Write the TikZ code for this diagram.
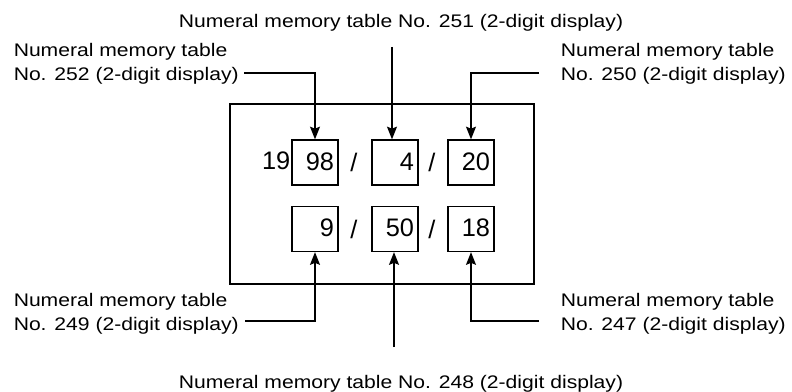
\documentclass[tikz,border=0pt]{standalone}
\usepackage{fontspec}
\setmainfont{Liberation Sans}
\newfontfamily\lblfont[FakeStretch=1.16]{Liberation Sans}
\usetikzlibrary{arrows.meta,calc}
\begin{document}
\begin{tikzpicture}[x=0.75pt,y=-0.75pt,
  lbl/.style={inner sep=0pt, align=left, font=\lblfont\fontsize{13.65pt}{17.5pt}\selectfont},
  digfont/.style={font=\fontsize{19pt}{23pt}\selectfont},
  digbox/.style={draw, line width=1pt, digfont, inner xsep=3pt, inner ysep=0pt,
    text width=28.5pt, align=right, text height=13.7pt, text depth=2pt,
    minimum height=33.75pt},
  sep/.style={digfont, inner sep=0pt},
  arr/.style={line width=1pt, -{Stealth[length=9.5pt,width=7.5pt,inset=1.5pt]}},
  frame/.style={line width=1pt}
]
\useasboundingbox (0,0) rectangle (792,392);

% frame
\draw[frame] (230,104) rectangle (534,284);

% top row
\node[digbox] (b98) at (315,162.5) {98};
\node[digbox] (b4)  at (395,162.5) {4};
\node[digbox] (b20) at (471,162.5) {20};
\node[sep, anchor=base east] (n19) at (290.5,170) {19};
\node[sep] (s1) at (354,162.5) {/};
\node[sep] (s2) at (432,162.5) {/};

% bottom row
\node[digbox] (b9)  at (315,229) {9};
\node[digbox] (b50) at (395,229) {50};
\node[digbox] (b18) at (471,229) {18};
\node[sep] (s3) at (354,229) {/};
\node[sep] (s4) at (432,229) {/};

% labels
\node[lbl, anchor=north west] (l252) at (13.5,43.3) {Numeral memory table\\No. 252 (2-digit display)};
\node[lbl, anchor=base] (l251) at (401,27.3) {Numeral memory table No. 251 (2-digit display)};
\node[lbl, anchor=north west] (l250) at (560.5,43.3) {Numeral memory table\\No. 250 (2-digit display)};
\node[lbl, anchor=north west] (l249) at (13.5,293.3) {Numeral memory table\\No. 249 (2-digit display)};
\node[lbl, anchor=base] (l248) at (401,388) {Numeral memory table No. 248 (2-digit display)};
\node[lbl, anchor=north west] (l247) at (560.5,293.3) {Numeral memory table\\No. 247 (2-digit display)};

% connector start points
\coordinate (c252) at (244,73);
\coordinate (c251) at (392,47);
\coordinate (c250) at (539,73);
\coordinate (c249) at (245,321);
\coordinate (c248) at (394,347);
\coordinate (c247) at (539,321);

\draw[arr] (c252) -| (b98.north);
\draw[arr] (c251) -- (c251 |- b4.north);
\draw[arr] (c250) -| (b20.north);
\draw[arr] (c249) -| (b9.south);
\draw[arr] (c248) -- (c248 |- b50.south);
\draw[arr] (c247) -| (b18.south);
\end{tikzpicture}
\end{document}
